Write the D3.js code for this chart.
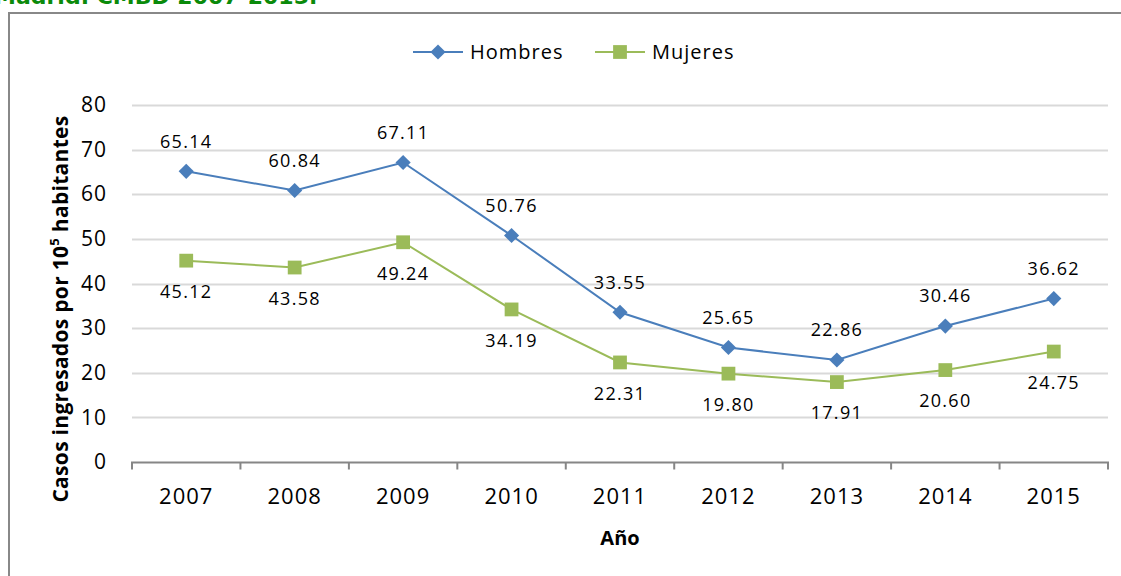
<!DOCTYPE html>
<html lang="es">
<head>
<meta charset="UTF-8">
<title>Casos ingresados</title>
<style>
    body { margin: 0; background: #fff; }
    svg { display: block; }
</style>
</head>
<body>
<script src="https://cdn.jsdelivr.net/npm/d3@7/dist/d3.min.js"></script>
<script>
    // data
    var years = ["2007", "2008", "2009", "2010", "2011", "2012", "2013", "2014", "2015"];
    var hombres = [65.14, 60.84, 67.11, 50.76, 33.55, 25.65, 22.86, 30.46, 36.62];
    var mujeres = [45.12, 43.58, 49.24, 34.19, 22.31, 19.80, 17.91, 20.60, 24.75];
    var yTicks = [0, 10, 20, 30, 40, 50, 60, 70, 80];

    var W = 1121, H = 576;
    var plot = { left: 132, right: 1108, top: 105, bottom: 462 };
    var font = "'Open Sans', Lato, sans-serif";

    var svg = d3.select("body").append("svg")
        .attr("width", W)
        .attr("height", H);

    // title, clipped at top of the picture
    svg.append("text")
        .attr("x", -6)
        .attr("y", 4)
        .style("font", "bold 22px Verdana, 'DejaVu Sans', sans-serif")
        .style("fill", "#0a8a0a")
        .text("Madrid. CMBD 2007-2015.");

    // chart frame
    svg.append("rect")
        .attr("x", 9)
        .attr("y", 13)
        .attr("width", W + 20)
        .attr("height", H + 20)
        .style("fill", "none")
        .style("stroke", "#888")
        .style("stroke-width", 2);

    var x = d3.scaleBand()
        .domain(years)
        .range([plot.left, plot.right]);

    var y = d3.scaleLinear()
        .domain([0, 80])
        .range([plot.bottom, plot.top]);

    // gridlines
    svg.append("g")
        .selectAll("line")
        .data(yTicks.filter(function (d) { return d > 0; }))
        .enter().append("line")
        .attr("x1", plot.left)
        .attr("x2", plot.right)
        .attr("y1", function (d) { return Math.round(y(d)) + 0.5; })
        .attr("y2", function (d) { return Math.round(y(d)) + 0.5; })
        .style("stroke", "#d9d9d9")
        .style("stroke-width", 2);

    // y axis (labels only)
    var yAxis = svg.append("g")
        .attr("transform", "translate(" + plot.left + ",0)")
        .call(d3.axisLeft(y).tickValues(yTicks).tickSize(0).tickPadding(25));
    yAxis.select(".domain").remove();
    yAxis.selectAll("text")
        .style("font", "21px " + font)
        .style("letter-spacing", "1px")
        .style("fill", "#000");

    // x axis
    var xAxis = svg.append("g")
        .attr("transform", "translate(0," + (Math.round(plot.bottom) + 0.5) + ")")
        .call(d3.axisBottom(x).tickSize(0).tickPadding(26));
    xAxis.select(".domain")
        .style("stroke", "#868686")
        .style("stroke-width", 2)
        .attr("d", "M" + plot.left + ",7V0H" + plot.right + "V7");
    xAxis.selectAll("text")
        .style("font", "22px " + font)
        .style("letter-spacing", "1px")
        .style("fill", "#000");
    // tick marks between categories
    xAxis.selectAll(".sep")
        .data(years.slice(1))
        .enter().append("line")
        .attr("x1", function (d) { return x(d); })
        .attr("x2", function (d) { return x(d); })
        .attr("y1", 0)
        .attr("y2", 7)
        .style("stroke", "#868686")
        .style("stroke-width", 2);

    // axis titles
    svg.append("text")
        .attr("x", (plot.left + plot.right) / 2)
        .attr("y", 545)
        .attr("text-anchor", "middle")
        .style("font", "bold 20px " + font)
        .text("Año");

    var yTitle = svg.append("text")
        .attr("transform", "translate(68,309) rotate(-90)")
        .attr("text-anchor", "middle")
        .style("font", "bold 21px " + font)
        .style("letter-spacing", "0.3px");
    yTitle.append("tspan").text("Casos ingresados  por 10");
    yTitle.append("tspan").attr("dy", -9).style("font-size", "13px").text("5");
    yTitle.append("tspan").attr("dy", 9).text(" habitantes");

    var cx = function (d, i) { return x(years[i]) + x.bandwidth() / 2; };

    var series = [
        { name: "Hombres", values: hombres, color: "#4a7ebb", size: 115, rot: 45, dy: -30 },
        { name: "Mujeres", values: mujeres, color: "#9bbb59", size: 190, rot: 0, dy: 31 }
    ];

    series.forEach(function (s) {
        var line = d3.line()
            .x(cx)
            .y(function (d) { return y(d); });

        svg.append("path")
            .datum(s.values)
            .attr("d", line)
            .style("fill", "none")
            .style("stroke", s.color)
            .style("stroke-width", 2);

        svg.append("g")
            .selectAll("path")
            .data(s.values)
            .enter().append("path")
            .attr("transform", function (d, i) {
                return "translate(" + cx(d, i) + "," + y(d) + ") rotate(" + s.rot + ")";
            })
            .attr("d", d3.symbol().type(d3.symbolSquare).size(s.size))
            .style("fill", s.color);

        svg.append("g")
            .selectAll("text")
            .data(s.values)
            .enter().append("text")
            .attr("x", cx)
            .attr("y", function (d) { return y(d) + s.dy; })
            .attr("dy", "0.35em")
            .attr("text-anchor", "middle")
            .style("font", "18px " + font)
            .style("letter-spacing", "1.3px")
            .style("fill", "#000")
            .text(function (d) { return d.toFixed(2); });
    });

    // legend
    var legend = svg.append("g");
    var legendX = [413, 595];
    series.forEach(function (s, i) {
        var g = legend.append("g").attr("transform", "translate(" + legendX[i] + ",52)");
        g.append("line")
            .attr("x1", 0).attr("x2", 50)
            .style("stroke", s.color)
            .style("stroke-width", 2);
        g.append("path")
            .attr("transform", "translate(25,0) rotate(" + s.rot + ")")
            .attr("d", d3.symbol().type(d3.symbolSquare).size(s.size))
            .style("fill", s.color);
        g.append("text")
            .attr("x", 57)
            .attr("dy", "0.35em")
            .style("font", "20px " + font)
            .style("letter-spacing", "1px")
            .style("fill", "#000")
            .text(s.name);
    });
</script>
</body>
</html>
